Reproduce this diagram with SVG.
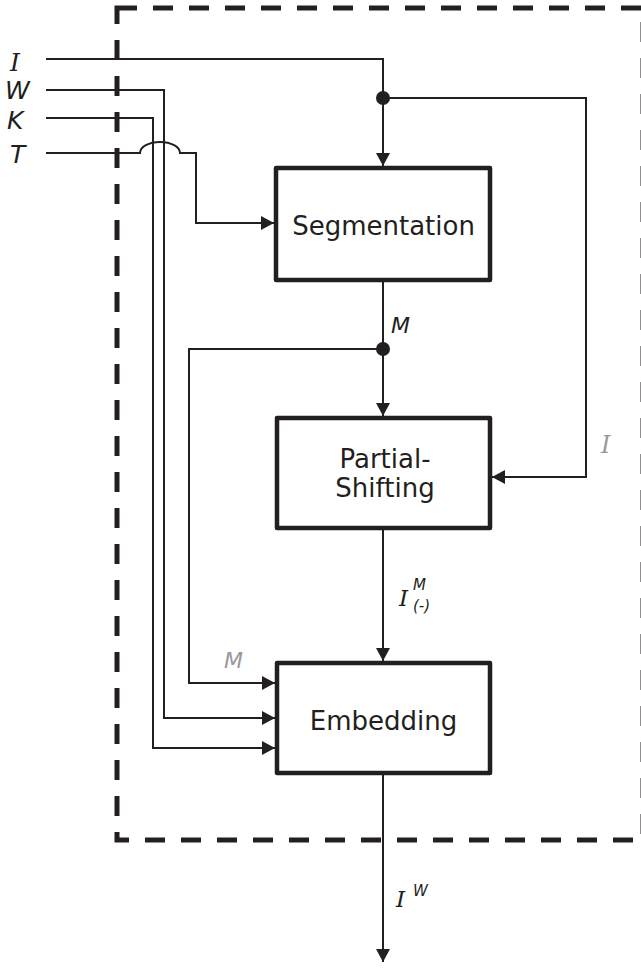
<svg xmlns="http://www.w3.org/2000/svg" width="641" height="968" viewBox="0 0 641 968">
  <style>
    .frame { fill: none; stroke: #231f20; stroke-width: 5; stroke-dasharray: 20 16; }
    .box { fill: #fff; stroke: #231f20; stroke-width: 4.5; stroke-linejoin: round; }
    .wire { fill: none; stroke: #231f20; stroke-width: 2; }
    .arrow { marker-end: url(#head); }
    .label { font-family: "DejaVu Sans", Verdana, sans-serif; font-size: 26px; fill: #231f20; text-anchor: middle; }
    .var { font-family: "DejaVu Sans", Verdana, sans-serif; font-style: italic; fill: #231f20; }
    .ivar { font-family: "DejaVu Serif", "Liberation Serif", serif; font-style: italic; fill: #231f20; }
    .grey { fill: #9a9a9a; }
    .dot { fill: #231f20; }
  </style>
  <defs>
    <marker id="head" viewBox="0 0 13 14" refX="13" refY="7" markerWidth="13" markerHeight="14" markerUnits="userSpaceOnUse" orient="auto">
      <path d="M0,0 L13,7 L0,14 z" fill="#231f20"/>
    </marker>
  </defs>

  <!-- enclosing system boundary (right edge runs just past the canvas) -->
  <rect class="frame" x="117" y="8" width="526" height="832"/>

  <!-- signal wiring -->
  <g id="connectors">
    <path class="wire arrow" d="M46,59 H383 V166"/>
    <path class="wire arrow" d="M383,98 H586 V477 H492"/>
    <path class="wire arrow" d="M46,90 H164 V718 H275"/>
    <path class="wire arrow" d="M46,118 H153 V748 H275"/>
    <path class="wire arrow" d="M46,153 H140 A20,11 0 0 1 180,153 H196 V223 H274"/>
    <path class="wire arrow" d="M383,280 V416"/>
    <path class="wire arrow" d="M383,349 H189 V683 H275"/>
    <path class="wire arrow" d="M383,528 V661"/>
    <path class="wire arrow" d="M383,773 V962"/>
    <circle class="dot" cx="383" cy="98" r="7"/>
    <circle class="dot" cx="383" cy="349" r="7"/>
  </g>

  <!-- input names -->
  <g id="inputs">
    <text class="ivar" x="10" y="71" font-size="25">I</text>
    <text class="var" x="5" y="99" font-size="25">W</text>
    <text class="var" x="7" y="129" font-size="25">K</text>
    <text class="var" x="10" y="163" font-size="25">T</text>
  </g>

  <g id="segmentation">
    <rect class="box" x="276" y="168" width="214" height="112"/>
    <text class="label" x="383.5" y="235">Segmentation</text>
  </g>

  <g id="partial-shifting">
    <rect class="box" x="277" y="418" width="213" height="110"/>
    <text class="label" x="385" y="468">Partial-</text>
    <text class="label" x="385" y="497">Shifting</text>
  </g>

  <g id="embedding">
    <rect class="box" x="277" y="663" width="213" height="110"/>
    <text class="label" x="383.5" y="730">Embedding</text>
  </g>

  <!-- signal labels -->
  <g id="signal-labels">
    <text class="var" x="391" y="333" font-size="22">M</text>
    <text class="ivar grey" x="601" y="453" font-size="24">I</text>
    <text class="ivar" x="399" y="606" font-size="23">I</text>
    <text class="var" x="413" y="590" font-size="15">M</text>
    <text class="var" x="413" y="611" font-size="15">(-)</text>
    <text class="var grey" x="224" y="668" font-size="22">M</text>
    <text class="ivar" x="396" y="907" font-size="23">I</text>
    <text class="var" x="413" y="896" font-size="15">W</text>
  </g>
</svg>
